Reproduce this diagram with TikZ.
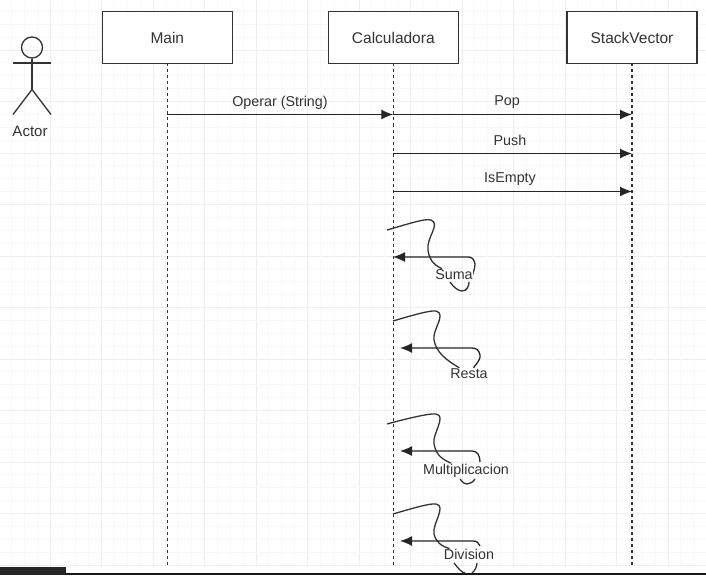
\documentclass[tikz,border=0pt]{standalone}
\usepackage{fontspec}
\setmainfont{Liberation Sans}
\usetikzlibrary{positioning, arrows.meta}
\definecolor{ink}{HTML}{333333}
\definecolor{minorgrid}{HTML}{F8F8F8}
\definecolor{majorgrid}{HTML}{EEEEEE}

\begin{document}
\begin{tikzpicture}[x=1pt, y=-1pt]
\tikzstyle{box}=[rectangle, draw=ink, line width=1.3pt, fill=white, minimum width=130pt, minimum height=52pt, outer sep=0pt, font=\fontsize{15.5}{17}\selectfont, text=ink]
\tikzstyle{connect}=[-{Latex[length=12pt, width=10pt]}, line width=1.3pt, black!85]
\tikzstyle{lifeline}=[dashed, dash pattern=on 3pt off 3pt, line width=1.4pt, ink]
\tikzstyle{squiggle}=[line width=1.3pt, ink]
\tikzstyle{message}=[font=\fontsize{14.3}{16}\selectfont, text=ink, inner sep=0pt]
\tikzstyle{tag}=[message, fill=white, inner sep=0.5pt]
\useasboundingbox (0,0) rectangle (706,575);
    \fill[white] (0,0) rectangle (706,575);
    % grid
    \foreach \i in {0,...,55} {
        \pgfmathsetmacro{\pos}{-1.5+\i*12.875}
        \pgfmathtruncatemacro{\rest}{mod(\i,4)}
        \ifnum\rest=0
            \draw[majorgrid, line width=0.8pt] (\pos,0) -- (\pos,567);
            \ifdim\pos pt<567pt \draw[majorgrid, line width=0.8pt] (0,\pos) -- (706,\pos); \fi
        \else
            \draw[minorgrid, line width=0.8pt] (\pos,0) -- (\pos,567);
            \ifdim\pos pt<567pt \draw[minorgrid, line width=0.8pt] (0,\pos) -- (706,\pos); \fi
        \fi
    }
    \fill[black!85] (0,567) rectangle (66,575);
    \fill[black!90] (66,573) rectangle (706,575);

    \node[box] (main) at (167.3,37.5) {Main};
    \node[box] (calc) [right=96pt of main] {Calculadora};
    \node[box] (stack) [right=108.7pt of calc] {StackVector};

    % lifelines
    \coordinate (mainEnd) at (main.south |- 0,565);
    \coordinate (calcEnd) at (calc.south |- 0,565);
    \coordinate (stackEnd) at (stack.south |- 0,565);
    \draw[lifeline] (main) -- (mainEnd);
    \draw[lifeline] (calc) -- (calcEnd);
    \draw[lifeline] (stack) -- (stackEnd);

    % actor
    \node[circle, draw=ink, line width=1.3pt, minimum size=21pt, inner sep=0pt] (head) at (32,47.5) {};
    \coordinate (armL) at (13,63);
    \coordinate (armR) at (51,63);
    \coordinate (hip) at (32,89.5);
    \coordinate (footL) at (13,114.5);
    \coordinate (footR) at (51,114.5);
    \node[message, font=\fontsize{15}{17}\selectfont] (actor) at (30,131.5) {Actor};
    \draw[line width=1.3pt, ink] (armL) -- (armR);
    \draw[line width=1.3pt, ink] (head) -- (hip);
    \draw[line width=1.3pt, ink] (footL) -- (hip) -- (footR);

    % messages
    \coordinate (opFrom) at (main.south |- 0,114.5);
    \coordinate (opTo) at (calc.south |- 0,114.5);
    \coordinate (popFrom) at (calc.south |- 0,114.5);
    \coordinate (popTo) at (stack.south |- 0,114.5);
    \coordinate (pushFrom) at (calc.south |- 0,153.5);
    \coordinate (pushTo) at (stack.south |- 0,153.5);
    \coordinate (emptyFrom) at (calc.south |- 0,191.5);
    \coordinate (emptyTo) at (stack.south |- 0,191.5);
    \path (opFrom) edge [connect] (opTo)
          (popFrom) edge [connect] (popTo)
          (pushFrom) edge [connect] (pushTo)
          (emptyFrom) edge [connect] (emptyTo);
    \node[message] (opLabel) at (280,102.5) {Operar (String)};
    \node[message] (popLabel) at (507,102.5) {Pop};
    \node[message] (pushLabel) at (510,140.5) {Push};
    \node[message] (emptyLabel) at (510,179.5) {IsEmpty};

    % Suma
    \coordinate (sumaFrom) at (387,230);
    \coordinate (sumaTo) at (393,257);
    \coordinate (sumaBack) at (475,264);
    \coordinate (sumaLow) at (471,279);
    \draw[squiggle] (sumaBack) .. controls (475,268) and (473,274) .. (sumaLow);
    \node[tag] (suma) at (454,274.5) {Suma};
    \draw[squiggle] (sumaFrom) .. controls (405,225) and (425,218) .. (431,220)
        .. controls (441,224) and (426,238) .. (428,250) .. controls (429,258) and (432,264) .. (suma);
    \draw[squiggle] (450,282) .. controls (454,288) and (459,291) .. (462,291) .. controls (467,291) and (469,286) .. (469,282);
    \draw[connect] (sumaBack) .. controls (474,259) and (472,257) .. (468,257) -- (sumaTo);

    % Resta
    \node[tag] (resta) at (469,373.5) {Resta};
    \coordinate (restaFrom) at (393,321);
    \coordinate (restaTo) at (400,348);
    \draw[squiggle] (restaFrom) .. controls (410,316) and (430,310) .. (436,311)
        .. controls (447,314) and (432,330) .. (434,340) .. controls (436,352) and (446,360) .. (resta);
    \draw[connect] (resta) .. controls (478,362) and (481,358) .. (480,355) .. controls (479,350) and (476,348) .. (472,348) -- (restaTo);

    % Multiplicacion
    \node[tag] (mult) at (466,470.5) {Multiplicacion};
    \coordinate (multFrom) at (387,424);
    \coordinate (multTo) at (400,451);
    \draw[squiggle] (multFrom) .. controls (405,419) and (430,413) .. (436,414)
        .. controls (447,416) and (432,434) .. (434,444) .. controls (436,454) and (440,458) .. (mult);
    \draw[squiggle] (460,479) .. controls (463,483) and (465,484) .. (467,484) .. controls (470,484) and (473,482) .. (475,479);
    \draw[connect] (480,462) .. controls (480,455) and (477,451) .. (472,451) -- (multTo);

    % Division
    \node[tag] (divi) at (469,554.5) {Division};
    \coordinate (diviFrom) at (393,514);
    \coordinate (diviTo) at (400,541);
    \draw[squiggle] (diviFrom) .. controls (410,509) and (430,503) .. (436,504)
        .. controls (447,506) and (432,524) .. (434,534) .. controls (436,542) and (441,546) .. (divi);
    \draw[squiggle] (454,563) .. controls (458,568) and (462,573) .. (465,573);
    \draw[squiggle] (472,573) .. controls (475,571) and (477,566) .. (477,563);
    \draw[connect] (480,546) .. controls (479,543) and (477,541) .. (473,541) -- (diviTo);

\end{tikzpicture}
\end{document}
